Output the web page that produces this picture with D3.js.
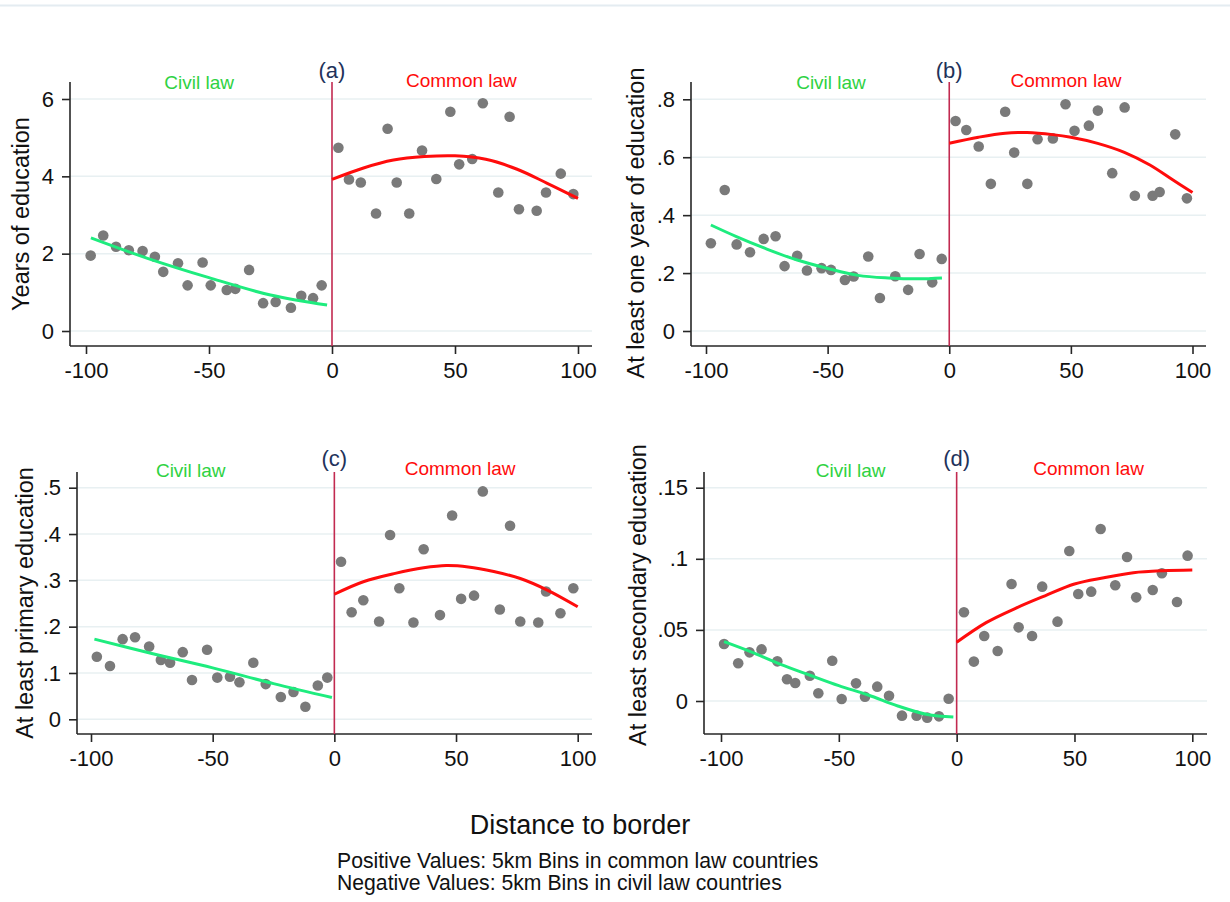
<!DOCTYPE html>
<html>
<head>
<meta charset="utf-8">
<script src="https://cdn.jsdelivr.net/npm/d3@7"></script>
<style>
  html, body { margin: 0; padding: 0; background: #fff; }
  svg { display: block; font-family: "Liberation Sans", Arial, sans-serif; }
</style>
</head>
<body>
<svg id="chart" width="1230" height="902"></svg>
<script>
// ---------------- DATA ----------------
const xTicks = [-100, -50, 0, 50, 100];

const yTicksA = [0, 2, 4, 6];
const yTicksB = [0, 0.2, 0.4, 0.6, 0.8];
const yTicksC = [0, 0.1, 0.2, 0.3, 0.4, 0.5];
const yTicksD = [0, 0.05, 0.1, 0.15];

const yTitles = ["Years of education", "At least one year of education",
                 "At least primary education", "At least secondary education"];
const panelLabels = ["(a)", "(b)", "(c)", "(d)"];
const sideLabels = ["Civil law", "Common law"];

// Panel (a): years of education
const aCivilPts = [[-98.1,1.95],[-93,2.47],[-87.8,2.18],[-82.6,2.09],[-77,2.07],[-72,1.92],[-68.6,1.53],[-62.6,1.75],[-58.7,1.18],[-52.6,1.77],[-49.3,1.18],[-42.8,1.06],[-39.3,1.09],[-33.7,1.58],[-28,0.72],[-22.9,0.75],[-16.7,0.60],[-12.5,0.91],[-7.7,0.85],[-4.2,1.18]];
const aCommonPts = [[2.6,4.74],[6.9,3.92],[11.7,3.84],[17.9,3.04],[22.6,5.23],[26.3,3.84],[31.4,3.04],[36.6,4.67],[42.4,3.93],[48.1,5.67],[51.7,4.31],[57,4.45],[61.3,5.89],[67.6,3.58],[72.2,5.54],[76,3.15],[83.2,3.11],[87,3.58],[93,4.07],[98.1,3.54]];
const aCivilFit = [[-98,2.41],[-75,1.88],[-50,1.38],[-25,0.93],[-2,0.67]];
const aCommonFit = [[0,3.92],[12.5,4.21],[25,4.42],[37.5,4.51],[50,4.53],[62.5,4.44],[75,4.19],[87.5,3.82],[100,3.43]];

// Panel (b): at least one year of education
const bCivilPts = [[-98,0.303],[-92.3,0.487],[-87.4,0.299],[-81.9,0.272],[-76.3,0.318],[-71.4,0.327],[-67.7,0.224],[-62.5,0.260],[-58.5,0.209],[-52.5,0.217],[-48.6,0.211],[-42.9,0.176],[-39.3,0.188],[-33.3,0.257],[-28.5,0.114],[-22.2,0.189],[-16.9,0.142],[-12.2,0.266],[-7,0.168],[-3.1,0.249]];
const bCommonPts = [[2.6,0.725],[7,0.694],[12.1,0.637],[17.1,0.508],[23,0.757],[26.7,0.616],[32.1,0.508],[36.3,0.662],[42.6,0.665],[47.8,0.783],[51.5,0.691],[57.4,0.709],[61.1,0.761],[67,0.545],[72.1,0.772],[76.3,0.467],[83.6,0.467],[86.5,0.48],[92.9,0.679],[97.7,0.458]];
const bCivilFit = [[-98,0.366],[-87.5,0.326],[-75,0.283],[-62.5,0.245],[-50,0.216],[-37.5,0.192],[-25,0.183],[-12.5,0.180],[-3,0.183]];
const bCommonFit = [[0,0.648],[12,0.669],[23,0.683],[32,0.685],[42.5,0.678],[50,0.669],[61,0.648],[72,0.617],[82.5,0.573],[92,0.521],[100,0.478]];

// Panel (c): at least primary education
const cCivilPts = [[-97.6,0.135],[-92.2,0.115],[-87,0.173],[-81.9,0.177],[-76.1,0.157],[-71.3,0.128],[-67.5,0.122],[-62.3,0.145],[-58.5,0.085],[-52.3,0.150],[-48.1,0.090],[-42.9,0.092],[-39,0.080],[-33.3,0.122],[-28.2,0.076],[-22,0.048],[-16.8,0.059],[-11.9,0.027],[-6.8,0.073],[-2.9,0.090]];
const cCommonPts = [[2.75,0.340],[7.1,0.231],[11.9,0.257],[18.4,0.211],[22.9,0.398],[26.7,0.283],[32.5,0.209],[36.7,0.367],[43.4,0.225],[48.4,0.440],[52.1,0.260],[57.4,0.267],[61,0.492],[68,0.237],[72.2,0.418],[76.4,0.211],[83.8,0.209],[87,0.276],[92.9,0.229],[98.2,0.283]];
const cCivilFit = [[-98.6,0.173],[-75,0.142],[-50,0.111],[-25,0.077],[-1,0.047]];
const cCommonFit = [[0,0.270],[11.9,0.297],[25,0.315],[36.7,0.327],[46,0.332],[55,0.329],[65.5,0.319],[76.4,0.304],[87.5,0.279],[100,0.243]];

// Panel (d): at least secondary education
const dCivilPts = [[-98.7,0.0401],[-92.7,0.0265],[-87.9,0.0342],[-82.8,0.0363],[-76.1,0.0279],[-72,0.0153],[-68.5,0.0127],[-62.3,0.0178],[-58.7,0.0054],[-52.8,0.0283],[-48.8,0.0014],[-42.7,0.0124],[-38.9,0.0030],[-33.7,0.0101],[-28.7,0.0037],[-23.2,-0.0103],[-17,-0.0103],[-12.5,-0.0117],[-7.5,-0.0108],[-3.4,0.0016]];
const dCommonPts = [[3.1,0.0624],[7.3,0.0277],[11.7,0.0457],[17.4,0.0352],[23.3,0.0823],[26.3,0.0518],[32,0.0457],[36.3,0.0804],[42.8,0.0558],[47.8,0.1055],[51.6,0.0752],[57.1,0.0769],[61.1,0.1210],[67.3,0.0814],[72.3,0.1013],[76.2,0.0729],[83.2,0.0781],[87.1,0.0898],[93.5,0.0696],[98,0.1022]];
const dCivilFit = [[-98.7,0.0417],[-87.5,0.0347],[-75,0.026],[-62.5,0.0183],[-50,0.0108],[-37.5,0.0042],[-25,-0.0035],[-12.5,-0.0095],[-1.4,-0.0113]];
const dCommonFit = [[0,0.0413],[12.5,0.0551],[25,0.0652],[37.5,0.074],[50,0.0823],[62.5,0.0867],[75,0.0902],[87.5,0.0916],[100,0.0921]];

const xTitle = "Distance to border";
const noteLines = ["Positive Values: 5km Bins in common law countries",
                   "Negative Values: 5km Bins in civil law countries"];

// ---------------- LAYOUT ----------------
const layouts = [
  { xr:[86,578],     axL:70,  axR:592,  top:82,  bot:346, yr:[331,99],      ttlX:29,  ttlY:214, lblBase:78,  sideBase:89,  sideX:[-54,52.6] },
  { xr:[706,1192.5], axL:691, axR:1206, top:82,  bot:346, yr:[331,99.3],    ttlX:644, ttlY:223, lblBase:78,  sideBase:89,  sideX:[-48.6,48] },
  { xr:[91,577.7],   axL:77,  axR:592,  top:472, bot:734, yr:[719.3,487.7], ttlX:33,  ttlY:603, lblBase:466, sideBase:477, sideX:[-59,51.7] },
  { xr:[721,1192.3], axL:704, axR:1207, top:472, bot:734, yr:[701,487.7],   ttlX:646, ttlY:595, lblBase:466, sideBase:477, sideX:[-45,56] }
];

const panels = [
  { yTicks:yTicksA, civ:aCivilPts, com:aCommonPts, civFit:aCivilFit, comFit:aCommonFit },
  { yTicks:yTicksB, civ:bCivilPts, com:bCommonPts, civFit:bCivilFit, comFit:bCommonFit },
  { yTicks:yTicksC, civ:cCivilPts, com:cCommonPts, civFit:cCivilFit, comFit:cCommonFit },
  { yTicks:yTicksD, civ:dCivilPts, com:dCommonPts, civFit:dCivilFit, comFit:dCommonFit }
];

const GREEN_LINE = "#1eec7e", GREEN_TXT = "#2fd243", RED = "#ff0c0c",
      BORDER = "#c22a50", DOT = "#7a7a7a", GRID = "#e8f0f2", AXIS = "#262626";

const svg = d3.select("#chart");
svg.append("rect").attr("width",1230).attr("height",902).attr("fill","#fff");
svg.append("line").attr("x1",0).attr("x2",1230).attr("y1",5.5).attr("y2",5.5)
  .attr("stroke","#e4ecf1").attr("stroke-width",2);

const fmtY = v => v === 0 ? "0" : String(v).replace(/^0\./, ".");
const fmtX = v => String(v);

panels.forEach((p, i) => {
  const L = layouts[i];
  const g = svg.append("g");
  const x = d3.scaleLinear().domain([-100, 100]).range(L.xr);
  const yd = p.yTicks;
  const y = d3.scaleLinear().domain([0, yd[yd.length-1]]).range(L.yr);

  // gridlines
  g.selectAll(".grid").data(yd).join("line")
    .attr("x1", L.axL).attr("x2", L.axR)
    .attr("y1", d => y(d)).attr("y2", d => y(d))
    .attr("stroke", GRID).attr("stroke-width", 1.5);

  // y axis
  const yAxis = d3.axisLeft(y).tickValues(yd).tickSize(8).tickPadding(8).tickFormat(fmtY);
  const ya = g.append("g").attr("transform", `translate(${L.axL},0)`).call(yAxis);
  ya.select(".domain").remove();
  ya.append("line").attr("x1",0).attr("x2",0).attr("y1",L.top).attr("y2",L.bot)
    .attr("stroke",AXIS).attr("stroke-width",1.6);
  ya.selectAll(".tick line").attr("stroke",AXIS).attr("stroke-width",1.6);
  ya.selectAll(".tick text").attr("font-size",22).attr("fill","#111")
    .attr("font-family","'Liberation Sans', Arial, sans-serif");

  // x axis
  const xAxis = d3.axisBottom(x).tickValues(xTicks).tickSize(8).tickPadding(8).tickFormat(fmtX);
  const xa = g.append("g").attr("transform", `translate(0,${L.bot})`).call(xAxis);
  xa.select(".domain").remove();
  xa.append("line").attr("x1",L.axL).attr("x2",L.axR).attr("y1",0).attr("y2",0)
    .attr("stroke",AXIS).attr("stroke-width",1.6);
  xa.selectAll(".tick line").attr("stroke",AXIS).attr("stroke-width",1.6);
  xa.selectAll(".tick text").attr("font-size",22).attr("fill","#111")
    .attr("font-family","'Liberation Sans', Arial, sans-serif");

  // border line at 0
  g.append("line").attr("x1",x(0)).attr("x2",x(0)).attr("y1",L.top).attr("y2",L.bot)
    .attr("stroke",BORDER).attr("stroke-width",1.6);

  // dots
  g.selectAll(".dot").data(p.civ.concat(p.com)).join("circle")
    .attr("cx", d => x(d[0])).attr("cy", d => y(d[1])).attr("r", 5.3)
    .attr("fill", DOT);

  // fits
  const line = d3.line().x(d => x(d[0])).y(d => y(d[1])).curve(d3.curveCatmullRom);
  g.append("path").datum(p.civFit).attr("d", line).attr("fill","none")
    .attr("stroke",GREEN_LINE).attr("stroke-width",3);
  g.append("path").datum(p.comFit).attr("d", line).attr("fill","none")
    .attr("stroke",RED).attr("stroke-width",3);

  // labels
  g.append("text").attr("x", x(0)).attr("y", L.lblBase).attr("text-anchor","middle")
    .attr("font-size",22).attr("fill","#22325a").text(panelLabels[i]);
  g.append("text").attr("x", x(L.sideX[0])).attr("y", L.sideBase).attr("text-anchor","middle")
    .attr("font-size",19).attr("fill",GREEN_TXT).text(sideLabels[0]);
  g.append("text").attr("x", x(L.sideX[1])).attr("y", L.sideBase - 2).attr("text-anchor","middle")
    .attr("font-size",19).attr("fill",RED).text(sideLabels[1]);

  // y title
  g.append("text").attr("transform", `translate(${L.ttlX},${L.ttlY}) rotate(-90)`)
    .attr("text-anchor","middle").attr("font-size",23.5).attr("fill","#111").text(yTitles[i]);
});

svg.append("text").attr("x",580).attr("y",834).attr("text-anchor","middle")
  .attr("font-size",27).attr("fill","#111").text(xTitle);
svg.selectAll(".note").data(noteLines).join("text")
  .attr("x",337).attr("y",(d,i) => 868 + i*22)
  .attr("font-size",21.2).attr("fill","#111").text(d => d);
</script>
</body>
</html>
